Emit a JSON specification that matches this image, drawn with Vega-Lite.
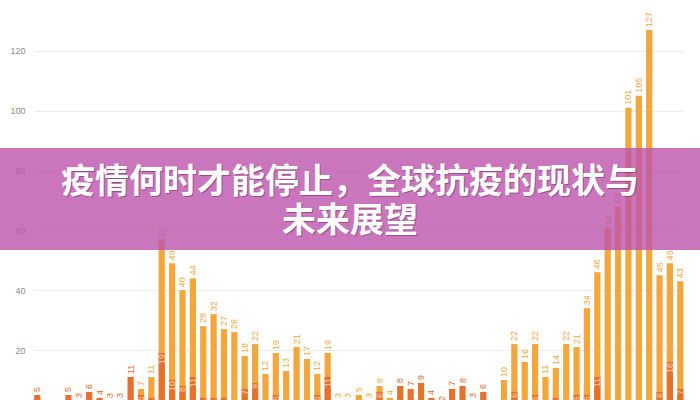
{
  "$schema": "https://vega.github.io/schema/vega-lite/v6.json",
  "description": "Daily cases, light bars with dark overlay bars, under a pink title banner",
  "width": 700,
  "height": 400,
  "autosize": {"type": "none"},
  "padding": 0,
  "background": "white",
  "config": {
    "view": {"stroke": null},
    "font": "Liberation Sans",
    "axisY": {
      "domain": false,
      "ticks": false,
      "tickSize": 0,
      "tickCount": 7,
      "labelPadding": -25,
      "labelAlign": "right",
      "labelColor": "#8a8a8a",
      "labelFontSize": 9,
      "gridColor": "#ececec",
      "gridWidth": 1
    }
  },
  "data": {
    "values": [
      {"d": 0, "a": 0, "b": 5}, {"d": 1, "a": 0, "b": 0}, {"d": 2, "a": 0, "b": 0},
      {"d": 3, "a": 0, "b": 5}, {"d": 4, "a": 0, "b": 3}, {"d": 5, "a": 0, "b": 6},
      {"d": 6, "a": 0, "b": 4}, {"d": 7, "a": 0, "b": 3}, {"d": 8, "a": 0, "b": 3},
      {"d": 9, "a": 0, "b": 11}, {"d": 10, "a": 7, "b": 5}, {"d": 11, "a": 11, "b": 4},
      {"d": 12, "a": 57, "b": 19}, {"d": 13, "a": 49, "b": 10}, {"d": 14, "a": 40, "b": 8},
      {"d": 15, "a": 44, "b": 11}, {"d": 16, "a": 28, "b": 4}, {"d": 17, "a": 32, "b": 4},
      {"d": 18, "a": 27, "b": 4}, {"d": 19, "a": 26, "b": 2}, {"d": 20, "a": 18, "b": 7},
      {"d": 21, "a": 22, "b": 9}, {"d": 22, "a": 12, "b": 0}, {"d": 23, "a": 19, "b": 5},
      {"d": 24, "a": 13, "b": 0}, {"d": 25, "a": 21, "b": 3}, {"d": 26, "a": 17, "b": 0},
      {"d": 27, "a": 12, "b": 5}, {"d": 28, "a": 19, "b": 11}, {"d": 29, "a": 3, "b": 0},
      {"d": 30, "a": 3, "b": 0}, {"d": 31, "a": 5, "b": 0}, {"d": 32, "a": 3, "b": 0},
      {"d": 33, "a": 8, "b": 6}, {"d": 34, "a": 4, "b": 0}, {"d": 35, "a": 0, "b": 8},
      {"d": 36, "a": 0, "b": 7}, {"d": 37, "a": 0, "b": 9}, {"d": 38, "a": 0, "b": 4},
      {"d": 39, "a": 0, "b": 2}, {"d": 40, "a": 0, "b": 7}, {"d": 41, "a": 0, "b": 8},
      {"d": 42, "a": 0, "b": 3}, {"d": 43, "a": 0, "b": 6}, {"d": 44, "a": 0, "b": 0},
      {"d": 45, "a": 10, "b": 0}, {"d": 46, "a": 22, "b": 6}, {"d": 47, "a": 16, "b": 0},
      {"d": 48, "a": 22, "b": 5}, {"d": 49, "a": 11, "b": 0}, {"d": 50, "a": 14, "b": 4},
      {"d": 51, "a": 22, "b": 0}, {"d": 52, "a": 21, "b": 5}, {"d": 53, "a": 34, "b": 5},
      {"d": 54, "a": 46, "b": 11}, {"d": 55, "a": 61, "b": 3}, {"d": 56, "a": 68, "b": 3},
      {"d": 57, "a": 101, "b": 3}, {"d": 58, "a": 105, "b": 2}, {"d": 59, "a": 127, "b": 3},
      {"d": 60, "a": 45, "b": 6}, {"d": 61, "a": 49, "b": 16}, {"d": 62, "a": 43, "b": 7}
    ]
  },
  "layer": [
    {
      "mark": {"type": "bar", "color": "#f3a63b"},
      "encoding": {
        "x": {"field": "d", "type": "ordinal", "axis": null,
              "scale": {"range": [34.2, 683.4], "paddingInner": 0.4, "paddingOuter": 0}},
        "y": {"field": "a", "type": "quantitative", "title": null,
              "scale": {"domain": [3.3, 137], "nice": false, "zero": false}}
      }
    },
    {
      "mark": {"type": "bar", "color": "#e6712d"},
      "encoding": {
        "x": {"field": "d", "type": "ordinal", "axis": null},
        "y": {"field": "b", "type": "quantitative", "title": null}
      }
    },
    {
      "transform": [{"filter": "datum.a > 0"}],
      "mark": {"type": "text", "angle": -90, "align": "left", "baseline": "middle",
               "dx": 3, "fontSize": 9, "color": "#f0a843"},
      "encoding": {
        "x": {"field": "d", "type": "ordinal", "axis": null},
        "y": {"field": "a", "type": "quantitative", "title": null},
        "text": {"field": "a", "type": "quantitative"}
      }
    },
    {
      "transform": [{"filter": "datum.b > 0 && datum.b >= datum.a"}],
      "mark": {"type": "text", "angle": -90, "align": "left", "baseline": "middle",
               "dx": 3, "fontSize": 9, "color": "#e06b2a"},
      "encoding": {
        "x": {"field": "d", "type": "ordinal", "axis": null},
        "y": {"field": "b", "type": "quantitative", "title": null},
        "text": {"field": "b", "type": "quantitative"}
      }
    },
    {
      "transform": [{"filter": "datum.b > 0 && datum.a > datum.b"}],
      "mark": {"type": "text", "angle": -90, "align": "right", "baseline": "middle",
               "dx": -1, "fontSize": 9, "color": "#fbd6a6"},
      "encoding": {
        "x": {"field": "d", "type": "ordinal", "axis": null},
        "y": {"field": "b", "type": "quantitative", "title": null},
        "text": {"field": "b", "type": "quantitative"}
      }
    },
    {
      "data": {"values": [{}]},
      "mark": {"type": "rect", "color": "#bd54ad", "opacity": 0.8},
      "encoding": {
        "y": {"datum": 87.5, "type": "quantitative", "title": null},
        "y2": {"datum": 53.4}
      }
    },
    {
      "data": {"values": [{}]},
      "mark": {"type": "text", "text": ["疫情何时才能停止，全球抗疫的现状与", "未来展望"],
               "font": "Noto Sans CJK SC", "fontWeight": "bold", "fontSize": 34,
               "lineHeight": 39, "align": "center", "baseline": "middle",
               "dx": 1, "dy": 1, "color": "#5a2050", "opacity": 0.45},
      "encoding": {
        "y": {"datum": 75.8, "type": "quantitative", "title": null}
      }
    },
    {
      "data": {"values": [{}]},
      "mark": {"type": "text", "text": ["疫情何时才能停止，全球抗疫的现状与", "未来展望"],
               "font": "Noto Sans CJK SC", "fontWeight": "bold", "fontSize": 34,
               "lineHeight": 39, "align": "center", "baseline": "middle",
               "color": "white"},
      "encoding": {
        "y": {"datum": 75.8, "type": "quantitative", "title": null}
      }
    }
  ]
}
